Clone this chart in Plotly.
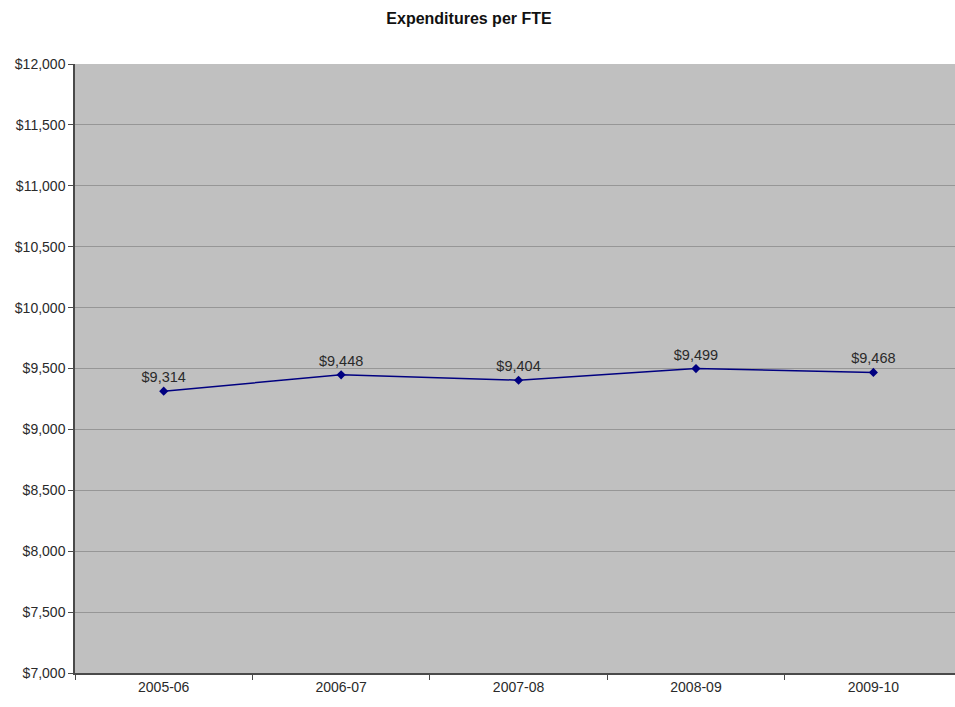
import plotly.graph_objects as go

years = ["2005-06", "2006-07", "2007-08", "2008-09", "2009-10"]
expenditures = [9314, 9448, 9404, 9499, 9468]
labels = ["$9,314", "$9,448", "$9,404", "$9,499", "$9,468"]
y_ticks = [7000, 7500, 8000, 8500, 9000, 9500, 10000, 10500, 11000, 11500, 12000]

pos = list(range(len(years)))

fig = go.Figure()
fig.add_trace(
    go.Scatter(
        x=pos,
        y=expenditures,
        mode="lines+markers+text",
        line=dict(color="#000080", width=1.5),
        marker=dict(symbol="diamond", size=7, color="#000080"),
        text=labels,
        textposition="top center",
        textfont=dict(family="Arial", size=14.5, color="#2a2a2a"),
        showlegend=False,
    )
)

fig.update_xaxes(
    range=[-0.5, 4.46],  # plot area runs past the right edge of the picture
    tickvals=pos,
    ticktext=years,
    ticks="",
    showgrid=False,
    showline=True,
    linecolor="#4a4a4a",
    linewidth=1.5,
    tickfont=dict(family="Arial", size=14, color="#2a2a2a"),
    minor=dict(tickvals=[-0.5, 0.5, 1.5, 2.5, 3.5], ticks="outside",
               ticklen=5, tickcolor="#4a4a4a", showgrid=False),
    zeroline=False,
)
fig.update_yaxes(
    range=[7000, 12000],
    tickvals=y_ticks,
    ticktext=["${:,}".format(v) for v in y_ticks],
    ticks="outside",
    ticklen=5,
    tickcolor="#4a4a4a",
    showgrid=True,
    gridcolor="#969696",
    gridwidth=1,
    showline=True,
    linecolor="#4a4a4a",
    linewidth=1.5,
    tickfont=dict(family="Arial", size=14, color="#2a2a2a"),
    zeroline=False,
)

fig.update_layout(
    width=955,
    height=707,
    title=dict(
        text="<b>Expenditures per FTE</b>",
        x=469 / 955,
        xref="container",
        xanchor="center",
        y=1 - 18 / 707,
        yanchor="middle",
        font=dict(family="Arial", size=16, color="#111111"),
    ),
    plot_bgcolor="#c0c0c0",
    paper_bgcolor="white",
    margin=dict(l=75, r=0, t=64, b=34),
)

# drop the default 8px body margin so the figure fills the window
fig.write_html(
    "out.html",
    config={"displayModeBar": False},
    post_script="document.body.style.margin='0';document.body.style.overflow='hidden';",
)
